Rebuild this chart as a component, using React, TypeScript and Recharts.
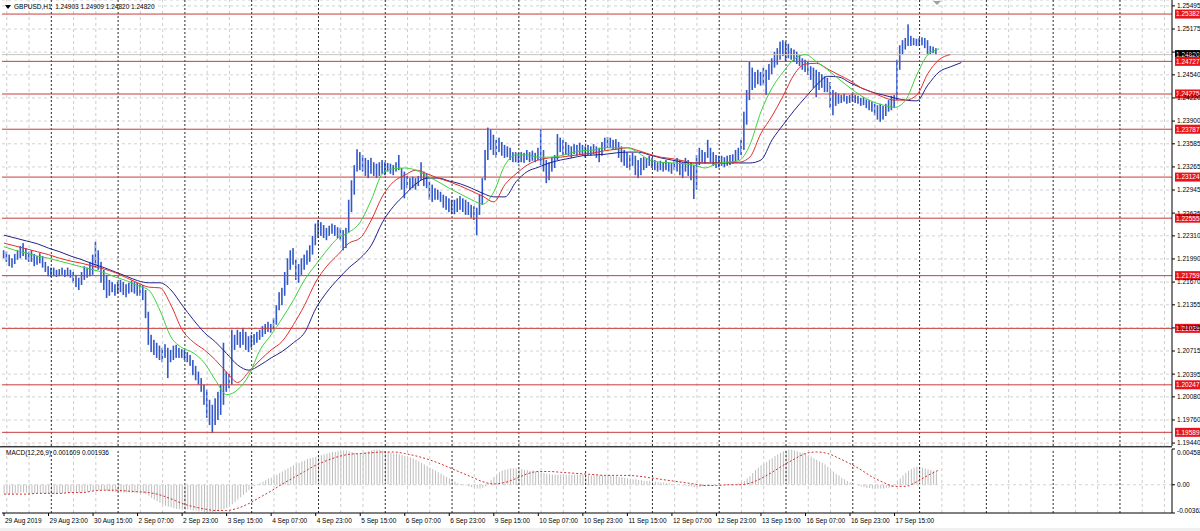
import React from "react";
import { ComposedChart, Bar, Line, XAxis, YAxis, CartesianGrid, ReferenceLine } from "recharts";

// ---------- price bars (GBPUSD H1), bar 0 = 29 Aug 2019 07:00 ----------
const barHigh = [
  1.2211,1.2209,1.2205,1.2200,1.2206,1.2211,1.2217,1.2221,1.2214,1.2209,1.2211,1.2206,1.2203,1.2207,1.2203,1.2195,1.2189,1.2187,
  1.2187,1.2184,1.2185,1.2187,1.2184,1.2187,1.2184,1.2181,1.2177,1.2173,1.2181,1.2189,1.2187,1.2195,1.2205,1.2223,1.2211,1.2195,1.2184,1.2177,1.2170,1.2167,1.2164,1.2167,
  1.2170,1.2167,1.2164,1.2166,1.2169,1.2167,1.2166,1.2164,1.2163,1.2156,1.2126,1.2094,1.2087,1.2083,1.2079,1.2076,1.2081,1.2076,1.2073,1.2079,1.2080,1.2076,1.2074,1.2073,
  1.2070,1.2066,1.2059,1.2051,1.2043,1.2034,1.2025,1.2018,1.2004,1.1997,1.2006,1.2015,1.2025,1.2083,1.2043,1.2040,1.2101,1.2094,1.2101,1.2098,1.2103,1.2098,1.2092,1.2094,
  1.2095,1.2098,1.2101,1.2106,1.2109,1.2112,1.2109,1.2117,1.2135,1.2153,1.2159,1.2181,1.2200,1.2211,1.2214,1.2198,1.2192,1.2200,1.2205,1.2211,1.2218,1.2231,1.2248,1.2253,
  1.2250,1.2246,1.2242,1.2245,1.2248,1.2246,1.2243,1.2242,1.2239,1.2242,1.2281,1.2308,1.2329,1.2351,1.2347,1.2343,1.2339,1.2336,1.2339,1.2333,1.2331,1.2333,1.2336,1.2333,
  1.2332,1.2331,1.2329,1.2333,1.2343,1.2325,1.2320,1.2314,1.2311,1.2313,1.2311,1.2314,1.2333,1.2320,1.2317,1.2306,1.2302,1.2297,1.2295,1.2292,1.2288,1.2286,1.2283,1.2281,
  1.2281,1.2283,1.2286,1.2283,1.2281,1.2278,1.2274,1.2272,1.2270,1.2288,1.2311,1.2350,1.2381,1.2378,1.2371,1.2364,1.2367,1.2361,1.2357,1.2355,1.2353,1.2347,1.2347,1.2346,
  1.2347,1.2346,1.2350,1.2347,1.2349,1.2346,1.2353,1.2378,1.2350,1.2336,1.2333,1.2339,1.2343,1.2372,1.2367,1.2364,1.2361,1.2357,1.2355,1.2358,1.2357,1.2360,1.2357,1.2355,
  1.2357,1.2355,1.2358,1.2355,1.2353,1.2361,1.2367,1.2368,1.2367,1.2364,1.2365,1.2361,1.2355,1.2350,1.2347,1.2343,1.2346,1.2342,1.2336,1.2339,1.2340,1.2339,1.2342,1.2339,
  1.2336,1.2333,1.2335,1.2333,1.2336,1.2333,1.2332,1.2336,1.2339,1.2336,1.2333,1.2339,1.2336,1.2333,1.2329,1.2343,1.2353,1.2350,1.2347,1.2364,1.2353,1.2347,1.2343,1.2342,
  1.2342,1.2340,1.2342,1.2343,1.2344,1.2350,1.2353,1.2364,1.2403,1.2433,1.2472,1.2464,1.2458,1.2461,1.2458,1.2464,1.2461,1.2469,1.2477,1.2486,1.2491,1.2500,1.2502,1.2500,
  1.2497,1.2491,1.2489,1.2486,1.2482,1.2477,1.2475,1.2472,1.2466,1.2464,1.2461,1.2458,1.2455,1.2452,1.2450,1.2444,1.2433,1.2430,1.2428,1.2426,1.2428,1.2425,1.2426,1.2428,
  1.2426,1.2425,1.2422,1.2423,1.2420,1.2419,1.2417,1.2414,1.2412,1.2414,1.2411,1.2414,1.2419,1.2425,1.2426,1.2475,1.2495,1.2502,1.2505,1.2524,1.2508,1.2505,1.2504,1.2505,1.2506,1.2505,1.2502,1.2494,1.2493,1.2491,
];
const barLow = [
  1.2200,1.2195,1.2189,1.2187,1.2192,1.2198,1.2200,1.2203,1.2198,1.2195,1.2195,1.2189,1.2191,1.2193,1.2187,1.2181,1.2175,1.2174,
  1.2175,1.2174,1.2175,1.2177,1.2174,1.2175,1.2173,1.2166,1.2160,1.2156,1.2163,1.2170,1.2173,1.2175,1.2177,1.2187,1.2184,1.2166,1.2156,1.2145,1.2148,1.2153,1.2148,1.2151,
  1.2153,1.2149,1.2146,1.2151,1.2153,1.2151,1.2148,1.2148,1.2142,1.2117,1.2080,1.2070,1.2066,1.2062,1.2059,1.2056,1.2062,1.2034,1.2056,1.2059,1.2062,1.2062,1.2062,1.2059,
  1.2056,1.2051,1.2038,1.2031,1.2025,1.2015,1.1997,1.1979,1.1969,1.1958,1.1969,1.1976,1.1983,1.1997,1.2015,1.2020,1.2025,1.2073,1.2080,1.2076,1.2080,1.2073,1.2070,1.2076,
  1.2080,1.2083,1.2087,1.2091,1.2095,1.2098,1.2097,1.2101,1.2108,1.2128,1.2135,1.2148,1.2163,1.2184,1.2191,1.2170,1.2166,1.2177,1.2184,1.2191,1.2195,1.2205,1.2218,1.2228,
  1.2231,1.2228,1.2225,1.2231,1.2234,1.2231,1.2228,1.2225,1.2211,1.2214,1.2236,1.2264,1.2288,1.2320,1.2322,1.2320,1.2314,1.2311,1.2317,1.2314,1.2311,1.2314,1.2317,1.2315,
  1.2320,1.2317,1.2315,1.2320,1.2322,1.2295,1.2283,1.2297,1.2295,1.2297,1.2295,1.2300,1.2308,1.2300,1.2297,1.2281,1.2278,1.2281,1.2281,1.2278,1.2270,1.2267,1.2264,1.2261,
  1.2261,1.2264,1.2267,1.2264,1.2260,1.2260,1.2256,1.2253,1.2232,1.2260,1.2274,1.2308,1.2336,1.2350,1.2343,1.2339,1.2347,1.2342,1.2339,1.2340,1.2336,1.2333,1.2333,1.2332,
  1.2333,1.2332,1.2336,1.2333,1.2335,1.2333,1.2336,1.2329,1.2320,1.2304,1.2308,1.2320,1.2325,1.2336,1.2347,1.2343,1.2343,1.2342,1.2339,1.2344,1.2342,1.2343,1.2342,1.2339,
  1.2342,1.2342,1.2344,1.2339,1.2333,1.2342,1.2350,1.2353,1.2353,1.2350,1.2350,1.2339,1.2333,1.2328,1.2325,1.2322,1.2328,1.2315,1.2311,1.2315,1.2322,1.2325,1.2328,1.2325,
  1.2322,1.2320,1.2322,1.2320,1.2322,1.2320,1.2317,1.2322,1.2320,1.2315,1.2311,1.2320,1.2314,1.2308,1.2282,1.2295,1.2329,1.2333,1.2331,1.2339,1.2333,1.2328,1.2325,1.2326,
  1.2328,1.2326,1.2328,1.2329,1.2331,1.2333,1.2336,1.2343,1.2350,1.2385,1.2419,1.2433,1.2436,1.2441,1.2439,1.2440,1.2426,1.2447,1.2455,1.2464,1.2468,1.2475,1.2480,1.2472,
  1.2477,1.2475,1.2472,1.2469,1.2466,1.2461,1.2458,1.2454,1.2447,1.2436,1.2423,1.2433,1.2436,1.2430,1.2430,1.2408,1.2398,1.2411,1.2414,1.2415,1.2417,1.2414,1.2415,1.2417,
  1.2415,1.2414,1.2411,1.2412,1.2408,1.2405,1.2403,1.2398,1.2392,1.2389,1.2392,1.2397,1.2403,1.2405,1.2408,1.2419,1.2461,1.2482,1.2489,1.2494,1.2494,1.2495,1.2494,1.2494,1.2495,1.2491,1.2483,1.2483,1.2484,1.2482,
];

// ---------- Alligator lines, one value every 4 bars ----------
const lipsLine = [
  1.2216,1.2211,1.2207,1.2203,1.2200,1.2196,1.2192,1.2188,1.2184,1.2180,
  1.2174,1.2169,1.2162,1.2156,1.2128,1.2091,1.2076,1.2069,1.2055,1.2031,
  1.2011,1.2018,1.2038,1.2073,1.2094,1.2117,1.2142,1.2170,1.2191,1.2211,
  1.2228,1.2236,1.2250,1.2281,1.2317,1.2324,1.2325,1.2322,1.2314,1.2306,
  1.2297,1.2289,1.2281,1.2275,1.2292,1.2329,1.2343,1.2343,1.2340,1.2340,
  1.2342,1.2346,1.2349,1.2350,1.2353,1.2353,1.2353,1.2346,1.2336,1.2333,
  1.2332,1.2331,1.2329,1.2325,1.2331,1.2333,1.2335,1.2357,1.2403,1.2436,
  1.2458,1.2476,1.2482,1.2472,1.2461,1.2448,1.2436,1.2425,1.2417,1.2412,
  1.2409,1.2419,1.2454,1.2482,1.2490,
];
const teethLine = [
  1.2221,1.2217,1.2213,1.2209,1.2205,1.2200,1.2196,1.2193,1.2189,1.2185,
  1.2180,1.2173,1.2166,1.2160,1.2159,1.2135,1.2101,1.2084,1.2073,1.2059,
  1.2042,1.2028,1.2043,1.2059,1.2073,1.2085,1.2108,1.2135,1.2167,1.2189,
  1.2205,1.2221,1.2228,1.2253,1.2286,1.2306,1.2315,1.2322,1.2317,1.2311,
  1.2306,1.2300,1.2293,1.2286,1.2278,1.2302,1.2317,1.2329,1.2336,1.2339,
  1.2340,1.2342,1.2344,1.2346,1.2349,1.2351,1.2353,1.2349,1.2344,1.2340,
  1.2338,1.2335,1.2332,1.2332,1.2332,1.2333,1.2333,1.2340,1.2373,1.2397,
  1.2425,1.2455,1.2469,1.2470,1.2462,1.2454,1.2446,1.2436,1.2430,1.2423,
  1.2419,1.2419,1.2426,1.2456,1.2475,1.2482,
];
const jawLine = [
  1.2232,1.2228,1.2224,1.2220,1.2214,1.2209,1.2203,1.2198,1.2192,1.2187,
  1.2181,1.2175,1.2169,1.2166,1.2166,1.2156,1.2135,1.2115,1.2097,1.2084,
  1.2068,1.2052,1.2045,1.2052,1.2062,1.2071,1.2083,1.2097,1.2130,1.2153,
  1.2171,1.2187,1.2200,1.2218,1.2250,1.2272,1.2288,1.2303,1.2311,1.2311,
  1.2307,1.2303,1.2297,1.2290,1.2285,1.2285,1.2306,1.2320,1.2326,1.2332,
  1.2336,1.2339,1.2342,1.2343,1.2344,1.2346,1.2347,1.2347,1.2343,1.2339,
  1.2336,1.2333,1.2332,1.2332,1.2332,1.2332,1.2332,1.2332,1.2336,1.2364,
  1.2385,1.2405,1.2423,1.2440,1.2452,1.2451,1.2443,1.2436,1.2430,1.2426,
  1.2422,1.2419,1.2418,1.2440,1.2458,1.2465,1.2471,
];

// ---------- MACD(12,26,9), in pips (1e-4) ----------
const macdHistPips = [
  -11,-11,-12,-12,-11,-11,-10,-10,-10,-10,-11,-11,-11,-11,-11,-12,-12,
  -12,-12,-11,-11,-11,-10,-10,-10,-10,-10,-10,-10,
  -9,-9,-8,-8,-7,-7,-7,-7,-8,-8,-9,-9,
  -9,-10,-10,-10,-10,-10,-10,-10,-11,-11,-12,-14,
  -17,-19,-21,-23,-25,-27,-28,-29,-30,-31,-31,-32,-32,-32,
  -32,-33,-33,-34,-34,-35,-35,-35,-35,-34,-33,-32,-31,-30,
  -28,-25,-22,-19,-16,-13,-10,-7,-4,-2,
  0,2,4,6,8,9,11,13,15,17,
  19,21,23,25,27,28,30,31,33,34,35,36,
  37,38,39,40,41,42,42,43,43,44,44,43,
  42,41,40,40,41,42,43,44,45,45,45,44,
  43,42,41,40,40,39,
  38,37,36,35,34,32,30,28,26,24,22,20,18,16,14,12,10,8,
  6,4,2,1,0,-1,-2,-3,-4,-5,-5,
  -4,-2,2,6,10,13,16,
  18,19,20,21,21,21,20,20,19,19,18,18,17,17,16,
  15,14,14,13,13,13,13,13,13,13,
  13,13,13,13,13,12,12,12,12,12,
  12,12,12,12,12,11,11,10,10,9,
  8,8,7,7,6,6,5,5,5,
  4,4,3,3,3,2,2,1,1,0,0,-1,-1,-2,-2,-3,-3,-3,
  -2,-2,-1,-1,0,0,0,0,0,0,1,1,1,2,3,5,
  8,11,15,19,22,25,27,29,32,34,37,39,41,43,44,45,
  45,44,43,42,41,40,38,36,34,32,30,28,26,23,20,17,14,12,9,7,5,3,
  1,0,-1,-2,-3,-4,-4,-5,-5,-5,-5,-5,-4,-4,
  -3,0,4,8,12,15,18,20,22,23,23,22,21,20,19,18,16,
];
const macdSignalPips = [
  -12,-12,-12,-11,-11,-11,-10,-10,-8,-7,
  -7,-8,-9,-10,-13,-18,-24,-28,-31,-33,
  -33,-30,-24,-16,-8,1,9,17,25,31,
  36,39,40,41,42,42,40,37,33,28,
  22,16,10,4,1,3,8,14,17,17,
  16,15,14,13,12,12,12,11,9,7,
  5,3,1,-1,-1,0,0,2,8,16,
  25,33,40,42,40,34,27,19,10,3,
  -2,-2,4,12,19,
];

// ---------- levels, ticks, labels ----------
const levelLines = [1.25382, 1.24727, 1.24275, 1.23787, 1.23124, 1.22555, 1.21759, 1.21029, 1.20247, 1.19589];
const lastPrice = 1.2482;
const priceTicks = [1.25495, 1.25175, 1.24855, 1.2454, 1.2422, 1.239, 1.23585, 1.23265, 1.22945, 1.22625, 1.2231, 1.2199, 1.2167, 1.21355, 1.21035, 1.20715, 1.20395, 1.2008, 1.1976, 1.1944];
const macdTicks = [0.004585, 0, -0.00362];
const macdTickLabels = ["0.004585", "0.00", "-0.00362"];
const timeLabels = [
  "29 Aug 2019", "29 Aug 23:00", "30 Aug 15:00", "2 Sep 07:00", "2 Sep 23:00", "3 Sep 15:00", "4 Sep 07:00",
  "4 Sep 23:00", "5 Sep 15:00", "6 Sep 07:00", "6 Sep 23:00", "9 Sep 15:00", "10 Sep 07:00", "10 Sep 23:00",
  "11 Sep 15:00", "12 Sep 07:00", "12 Sep 23:00", "13 Sep 15:00", "16 Sep 07:00", "16 Sep 23:00", "17 Sep 15:00",
];
const headerText = "GBPUSD,H1  1.24903 1.24909 1.24820 1.24820";
const macdText = "MACD(12,26,9) 0.001609 0.001936";

// ---------- layout helpers ----------
const FONT = "'Liberation Sans', Arial, sans-serif";
const LINE_STEP = 4;
const LABEL_STEP = 16;
const ROW_COUNT = 345;
const BAR_COUNT = barHigh.length;
const X_DOMAIN: [number, number] = [-0.72, 419.7];
const PRICE_DOMAIN: [number, number] = [1.193996, 1.255767];
const MACD_DOMAIN: [number, number] = [-0.00362, 0.004585];
const timeTicks = timeLabels.map((_, k) => k * LABEL_STEP);
const gridBars = Array.from({ length: 53 }, (_, k) => 1 + 8 * k);
const isDaySeparator = (b: number) => (b - 17) % 24 === 0;

const sampled = (arr: number[], i: number): number | null =>
  i % LINE_STEP === 0 && i / LINE_STEP < arr.length ? arr[i / LINE_STEP] : null;

const priceRows = Array.from({ length: ROW_COUNT }, (_, i) => ({
  i,
  range: i < BAR_COUNT ? [barLow[i], barHigh[i]] : null,
  lips: sampled(lipsLine, i),
  teeth: sampled(teethLine, i),
  jaw: sampled(jawLine, i),
}));

const macdRows = Array.from({ length: ROW_COUNT }, (_, i) => {
  const s = sampled(macdSignalPips, i);
  return {
    i,
    hist: i < BAR_COUNT ? macdHistPips[i] / 10000 : null,
    signal: s == null ? null : s / 10000,
  };
});

// ---------- custom shapes ----------
const PriceBar = (props: any) => {
  const { x, y, width, height } = props;
  if (x == null || y == null || height == null || !isFinite(x) || !isFinite(y) || !isFinite(height)) return null;
  const cx = x + width / 2;
  const top = Math.min(y, y + height);
  const h = Math.max(Math.abs(height), 1);
  return <rect x={cx - 0.8} y={top} width={1.6} height={h} fill="#3358c9" />;
};

const HistBar = (props: any) => {
  const { x, y, width, height } = props;
  if (x == null || y == null || height == null || !isFinite(x) || !isFinite(y) || !isFinite(height)) return null;
  const cx = x + width / 2;
  const top = Math.min(y, y + height);
  const h = Math.abs(height);
  if (h < 0.3) return null;
  return <rect x={cx - 0.5} y={top} width={1} height={h} fill="#bdbdbd" />;
};

const PriceTick = (props: any) => {
  const { x, y, payload } = props;
  return (
    <text x={x} y={y} dy={2.4} fontSize={6.5} fill="#000" fontFamily={FONT} textAnchor="start">
      {Number(payload.value).toFixed(5)}
    </text>
  );
};

const MacdTick = (props: any) => {
  const { x, y, payload, index } = props;
  const k = macdTicks.indexOf(payload.value);
  const dy = k === 0 ? 5.5 : k === 2 ? -0.5 : 2.4;
  return (
    <text x={x} y={y} dy={dy} fontSize={6.5} fill="#000" fontFamily={FONT} textAnchor="start">
      {macdTickLabels[k >= 0 ? k : index]}
    </text>
  );
};

const TimeTick = (props: any) => {
  const { x, y, payload } = props;
  const k = timeTicks.indexOf(payload.value);
  return (
    <text x={x + 1} y={y} dy={5} fontSize={6.5} fill="#000" fontFamily={FONT} textAnchor="start">
      {timeLabels[k]}
    </text>
  );
};

const PriceTag = (props: any) => {
  const { viewBox, text, fill } = props;
  if (!viewBox) return null;
  const x = viewBox.x + viewBox.width + 3;
  const y = viewBox.y;
  return (
    <g>
      <rect x={x} y={y - 4.5} width={26} height={9} fill={fill} />
      <text x={x + 1} y={y + 2.4} fontSize={6.5} fill="#fff" fontFamily={FONT}>
        {text}
      </text>
    </g>
  );
};

const verticalGrid = (prefix: string) =>
  gridBars.map((b) =>
    isDaySeparator(b) ? (
      <ReferenceLine key={prefix + b} x={b} stroke="#2a2a2a" strokeDasharray="2 2" strokeWidth={1} />
    ) : (
      <ReferenceLine key={prefix + b} x={b} stroke="#cdcdcd" strokeDasharray="3 3" strokeWidth={1} />
    )
  );

export default function App() {
  return (
    <div
      style={{
        position: "fixed",
        left: 0,
        top: 0,
        width: 1200,
        height: 531,
        background: "#ffffff",
        overflow: "hidden",
        fontFamily: FONT,
      }}
    >
      {/* main price window */}
      <div style={{ position: "absolute", left: 0, top: 0 }}>
        <ComposedChart width={1200} height={446} data={priceRows} margin={{ top: 0, right: 0, bottom: 0, left: 2 }}>
          <CartesianGrid vertical={false} stroke="#d2d2d2" strokeDasharray="3 3" />
          <XAxis dataKey="i" type="number" domain={X_DOMAIN} allowDataOverflow hide />
          <YAxis
            orientation="right"
            width={28}
            domain={PRICE_DOMAIN}
            allowDataOverflow
            ticks={priceTicks}
            interval={0}
            tickSize={3}
            tickMargin={2}
            tick={<PriceTick />}
            axisLine={{ stroke: "#000" }}
            tickLine={{ stroke: "#000" }}
          />
          {verticalGrid("pv")}
          <ReferenceLine y={lastPrice} stroke="#c4c4c4" strokeWidth={1} label={<PriceTag text={lastPrice.toFixed(5)} fill="#000" />} />
          {levelLines.map((lv) => (
            <ReferenceLine
              key={"lv" + lv}
              y={lv}
              stroke="#c83c3c"
              strokeWidth={1}
              label={<PriceTag text={lv.toFixed(5)} fill="#e8141c" />}
            />
          ))}
          <Bar dataKey="range" barSize={2} shape={<PriceBar />} isAnimationActive={false} />
          <Line dataKey="jaw" type="monotone" stroke="#22228a" strokeWidth={1} dot={false} connectNulls isAnimationActive={false} />
          <Line dataKey="teeth" type="monotone" stroke="#e0302c" strokeWidth={1} dot={false} connectNulls isAnimationActive={false} />
          <Line dataKey="lips" type="monotone" stroke="#3cd23c" strokeWidth={1} dot={false} connectNulls isAnimationActive={false} />
        </ComposedChart>
      </div>

      {/* header text */}
      <div style={{ position: "absolute", left: 5, top: 3, fontSize: 6.5, color: "#000", whiteSpace: "pre", display: "flex", alignItems: "center" }}>
        <svg width={6} height={6} style={{ marginRight: 3 }}>
          <polygon points="0,1 6,1 3,5" fill="#000" />
        </svg>
        {headerText}
      </div>
      {/* chart shift marker */}
      <svg width={8} height={5} style={{ position: "absolute", left: 933, top: 1 }}>
        <polygon points="0,0 8,0 4,4" fill="#a0a0a0" />
      </svg>

      {/* window separator */}
      <div style={{ position: "absolute", left: 0, top: 446, width: 1172, height: 1, background: "#3c3c3c" }} />
      <div style={{ position: "absolute", left: 0, top: 447, width: 1172, height: 1, background: "#a8a8a8" }} />

      {/* MACD window */}
      <div style={{ position: "absolute", left: 0, top: 446 }}>
        <ComposedChart width={1200} height={85} data={macdRows} margin={{ top: 3, right: 0, bottom: 0, left: 2 }}>
          <XAxis
            dataKey="i"
            type="number"
            domain={X_DOMAIN}
            allowDataOverflow
            ticks={timeTicks}
            interval={0}
            height={18}
            tickSize={3}
            tickMargin={2}
            tick={<TimeTick />}
            axisLine={{ stroke: "#000" }}
            tickLine={{ stroke: "#000" }}
          />
          <YAxis
            orientation="right"
            width={28}
            domain={MACD_DOMAIN}
            allowDataOverflow
            ticks={macdTicks}
            interval={0}
            tickSize={3}
            tickMargin={2}
            tick={<MacdTick />}
            axisLine={{ stroke: "#000" }}
            tickLine={{ stroke: "#000" }}
          />
          {verticalGrid("mv")}
          <ReferenceLine y={0} stroke="#d2d2d2" strokeDasharray="3 3" />
          <Bar dataKey="hist" barSize={1} shape={<HistBar />} isAnimationActive={false} />
          <Line dataKey="signal" type="monotone" stroke="#d23030" strokeWidth={1} strokeDasharray="2 2" dot={false} connectNulls isAnimationActive={false} />
        </ComposedChart>
      </div>

      {/* MACD caption */}
      <div style={{ position: "absolute", left: 6, top: 449, fontSize: 6.5, color: "#000", whiteSpace: "pre" }}>{macdText}</div>

      {/* bottom status strip */}
      <div style={{ position: "absolute", left: 0, top: 528, width: 1200, height: 3, background: "#f0f0f0" }} />
    </div>
  );
}
